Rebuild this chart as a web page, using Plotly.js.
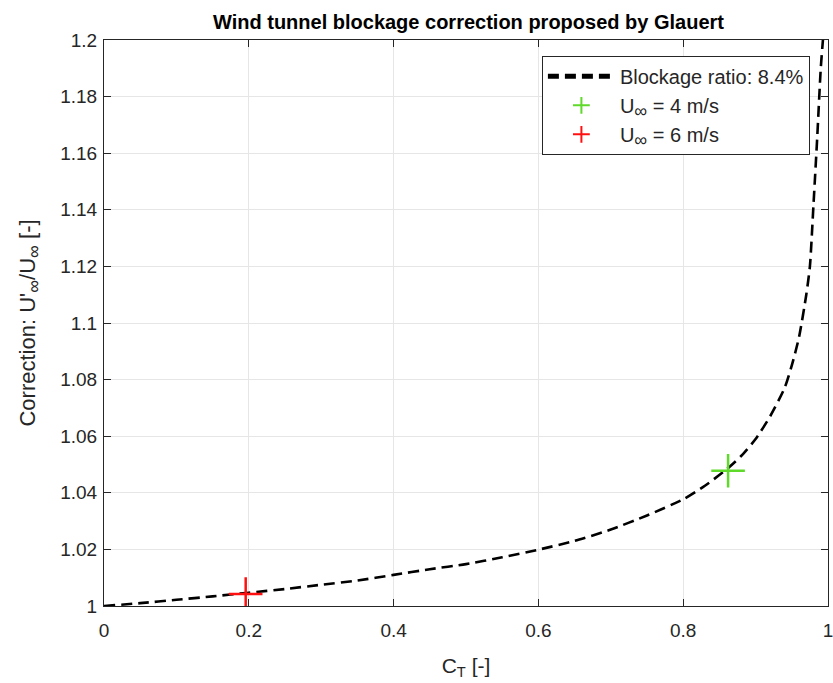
<!DOCTYPE html>
<html>
<head>
<meta charset="utf-8">
<script src="https://cdn.plot.ly/plotly-3.0.1.min.js"></script>
<style>html,body{margin:0;padding:0;background:#fff;}#chart{width:833px;height:683px;}</style>
</head>
<body>
<div id="chart"></div>
<script>
// Curve
var ctCurve = [0, 0.05, 0.1, 0.15, 0.2, 0.25, 0.3, 0.35, 0.4, 0.45, 0.5, 0.55, 0.6, 0.65, 0.7, 0.75, 0.8, 0.83, 0.86, 0.88, 0.9, 0.92, 0.94, 0.95, 0.96, 0.97, 0.975, 0.98, 0.985, 0.99, 0.993];
var corrCurve = [1.0, 1.001, 1.0022, 1.0034, 1.0047, 1.006, 1.0075, 1.009, 1.011, 1.013, 1.0148, 1.0172, 1.0199, 1.023, 1.027, 1.032, 1.0377, 1.0425, 1.0483, 1.053, 1.059, 1.067, 1.077, 1.085, 1.095, 1.11, 1.12, 1.142, 1.165, 1.19, 1.2];
var ct4 = [0.862];
var corr4 = [1.0478];
var ct6 = [0.1957];
var corr6 = [1.0042];
var inf = '<sub><span style="font-size:18px">∞</span></sub>';
var legendNames = ["Blockage ratio: 8.4%", "U" + inf + " = 4 m/s", "U" + inf + " = 6 m/s"];
var xTicks = [0, 0.2, 0.4, 0.6, 0.8, 1];
var yTicks = [1, 1.02, 1.04, 1.06, 1.08, 1.1, 1.12, 1.14, 1.16, 1.18, 1.2];

var axCol = '#262626';
var font = 'Liberation Sans, Arial, Helvetica, sans-serif';

var traces = [
  {x: ctCurve, y: corrCurve, mode: 'lines', name: legendNames[0],
   line: {color: '#000000', width: 2.6, dash: '11px,6px', shape: 'spline', smoothing: 0.6}},
  {x: ct4, y: corr4, mode: 'markers', name: legendNames[1],
   marker: {symbol: 'cross-thin', size: 24, line: {color: '#5fd92a', width: 2.5}, color: '#5fd92a'}},
  {x: ct6, y: corr6, mode: 'markers', name: legendNames[2],
   marker: {symbol: 'cross-thin', size: 24, line: {color: '#ff1010', width: 2.5}, color: '#ff1010'}}
];

var layout = {
  width: 833, height: 683,
  margin: {l: 104, r: 5, t: 40, b: 77},
  paper_bgcolor: '#ffffff', plot_bgcolor: '#ffffff',
  font: {family: font, color: axCol, size: 19},
  title: {text: '<b>Wind tunnel blockage correction proposed by Glauert</b>',
          font: {family: font, size: 20, color: '#000000'},
          x: 0.5624, xanchor: 'center', y: 0.978, yanchor: 'top'},
  xaxis: {range: [0, 1], tickvals: xTicks, ticktext: xTicks.map(String),
          showgrid: true, gridcolor: '#e6e6e6', gridwidth: 1,
          showline: true, linecolor: axCol, linewidth: 1, mirror: 'ticks',
          ticks: 'inside', ticklen: 7, tickcolor: axCol, zeroline: false,
          ticklabelstandoff: 7, ticklabeloverflow: 'allow',
          tickfont: {size: 19, color: axCol, family: font},
          title: {text: 'C<sub>T</sub> [-]', font: {size: 21, color: axCol, family: font}, standoff: 18}},
  yaxis: {range: [1, 1.2], tickvals: yTicks, ticktext: yTicks.map(String),
          showgrid: true, gridcolor: '#e6e6e6', gridwidth: 1,
          showline: true, linecolor: axCol, linewidth: 1, mirror: 'ticks',
          ticks: 'inside', ticklen: 7, tickcolor: axCol, zeroline: false,
          ticklabelstandoff: 2, ticklabeloverflow: 'allow',
          tickfont: {size: 19, color: axCol, family: font},
          title: {text: "Correction: U'" + inf + "/U" + inf + " [-]", font: {size: 22, color: axCol, family: font}, standoff: 18}},
  legend: {x: 0.975, xanchor: 'right', y: 0.972, yanchor: 'top',
           bgcolor: '#ffffff', bordercolor: axCol, borderwidth: 1,
           itemwidth: 67, itemsizing: 'constant',
           font: {size: 20, color: axCol, family: font}, tracegroupgap: 0},
  showlegend: true
};

Plotly.newPlot('chart', traces, layout, {displayModeBar: false, staticPlot: true});
</script>
</body>
</html>
